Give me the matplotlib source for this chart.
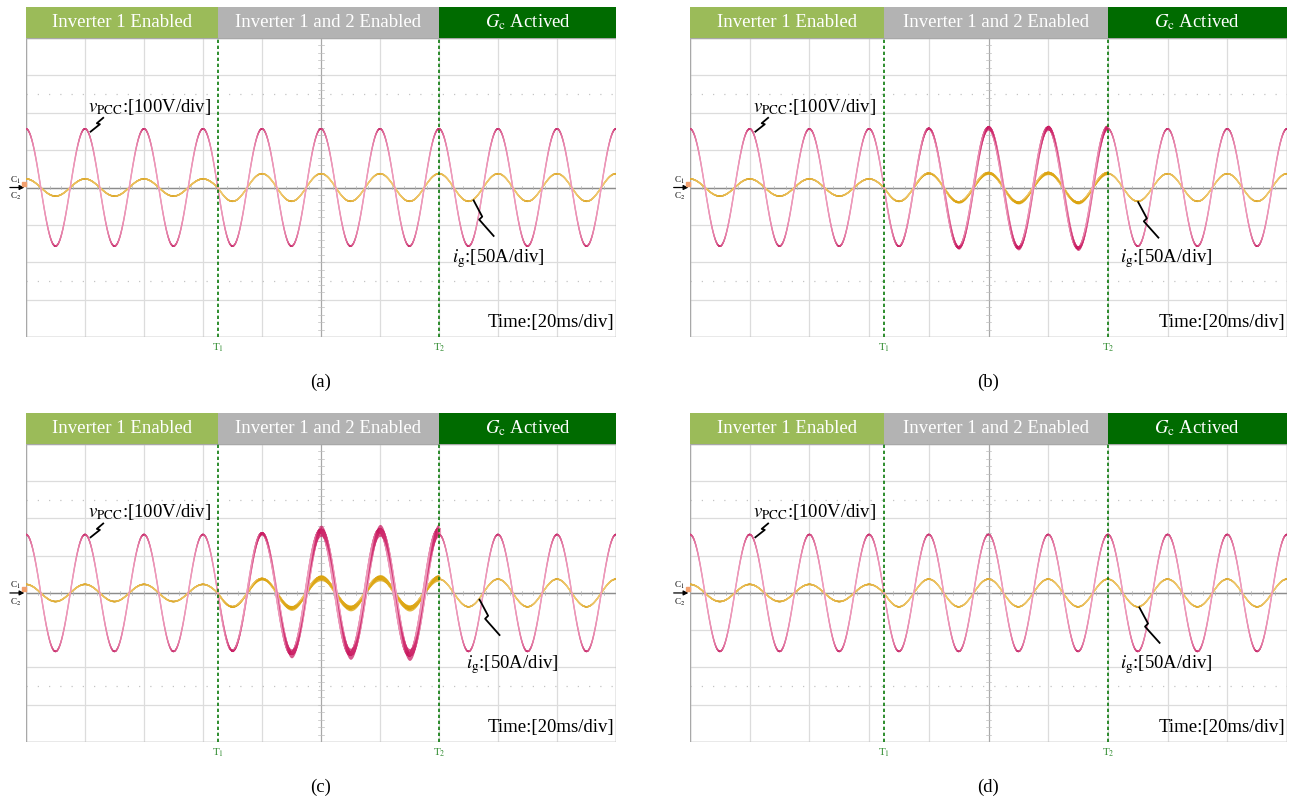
import numpy as np
import matplotlib.pyplot as plt
from matplotlib.collections import LineCollection
from matplotlib.colors import to_rgb
from matplotlib.patches import Rectangle

plt.rcParams['font.family'] = ['Liberation Serif', 'DejaVu Serif']
plt.rcParams['mathtext.fontset'] = 'stix'

# scope screen: 10 x 8 divisions, 20 ms/div -> one 50 Hz cycle per div
n_div_x = 10
n_div_y = 8
T1, T2 = 3.25, 7.0          # switching instants [div]
stage_labels = ['Inverter 1 Enabled', 'Inverter 1 and 2 Enabled',
                r'$G_{\mathrm{c}}$ Actived']
stage_colors = ['#9BBB59', '#B3B3B3', '#006B00']
panels = ['(a)', '(b)', '(c)', '(d)']

# amplitudes in div (v: 100 V/div, i: 50 A/div)
v_amp = [1.57, 1.57, 1.57]          # stage 1 / stage 2 nominal / stage 3
i_amp = [0.23, 0.37, 0.37]

# stage 2, per half cycle (extrema at t = 3.5, 4.0, ..., 7.0)
v_stage2 = {
    '(a)': [1.57, 1.57, 1.57, 1.57, 1.57, 1.57, 1.57, 1.57],
    '(b)': [1.57, 1.58, 1.60, 1.60, 1.61, 1.60, 1.62, 1.62],
    '(c)': [1.55, 1.60, 1.62, 1.67, 1.63, 1.68, 1.65, 1.69],
    '(d)': [1.57, 1.57, 1.57, 1.57, 1.57, 1.57, 1.57, 1.57],
}
v_band2 = {
    '(a)': [0, 0, 0, 0, 0, 0, 0, 0],
    '(b)': [0.02, 0.04, 0.10, 0.13, 0.12, 0.14, 0.13, 0.14],
    '(c)': [0.05, 0.10, 0.24, 0.30, 0.30, 0.32, 0.32, 0.34],
    '(d)': [0, 0, 0, 0, 0, 0, 0, 0],
}
i_stage2 = {
    '(a)': [0.37, 0.37, 0.37, 0.37, 0.37, 0.37, 0.37, 0.37],
    '(b)': [0.37, 0.38, 0.39, 0.39, 0.40, 0.39, 0.40, 0.39],
    '(c)': [0.37, 0.38, 0.40, 0.41, 0.40, 0.41, 0.40, 0.41],
    '(d)': [0.37, 0.37, 0.37, 0.37, 0.37, 0.37, 0.37, 0.37],
}
i_band2 = {
    '(a)': [0, 0, 0, 0, 0, 0, 0, 0],
    '(b)': [0.01, 0.03, 0.06, 0.08, 0.08, 0.09, 0.08, 0.09],
    '(c)': [0.03, 0.07, 0.13, 0.16, 0.16, 0.17, 0.17, 0.18],
    '(d)': [0, 0, 0, 0, 0, 0, 0, 0],
}
# annotation anchors [div]
ig_text_x = {'(a)': 7.22, '(b)': 7.2, '(c)': 7.45, '(d)': 7.2}
ig_lead_x = {'(a)': 7.58, '(b)': 7.5, '(c)': 7.68, '(d)': 7.52}

# axes boxes in pixels: left, top, width, height
boxes = {'(a)': (26, 7, 590, 330), '(b)': (690, 7, 597, 330),
         '(c)': (26, 413, 590, 329), '(d)': (690, 413, 597, 329)}
W, H = 1293, 806
HEAD = 0.83


def profile(t, stage_vals, stage2_list):
    a = np.full_like(t, stage_vals[0])
    m2 = (t >= T1) & (t < T2)
    k = np.clip(((t[m2] - T1) // 0.5).astype(int), 0, 7)
    a[m2] = np.asarray(stage2_list, dtype=float)[k]
    a[t >= T2] = stage_vals[2]
    return a


def trace(ax, t, y, amp, dark, light, lw, z):
    pts = np.column_stack([t, y])
    segs = np.stack([pts[:-1], pts[1:]], axis=1)
    slope = np.abs(np.diff(y) / np.diff(t))
    f = np.clip(slope / (2 * np.pi * amp), 0, 1) ** 0.5
    d, l = np.array(to_rgb(dark)), np.array(to_rgb(light))
    cols = (1 - f)[:, None] * d + f[:, None] * l
    ax.add_collection(LineCollection(segs, colors=cols, linewidths=lw,
                                     zorder=z, capstyle='round'))


def leader(ax, x0, y0, offs):
    # offsets in pixels (image coords, y down) -> div
    xs = [x0 + dx / 59.0 for dx, dy in offs]
    ys = [y0 - dy / 37.4 for dx, dy in offs]
    ax.plot(xs, ys, color='black', lw=1.3, zorder=6, solid_capstyle='butt')


t = np.linspace(0, n_div_x, 6001)
c = np.cos(2 * np.pi * t)

fig = plt.figure(figsize=(W / 100, H / 100), dpi=100)

for name in panels:
    l, tp, w, h = boxes[name]
    ax = fig.add_axes([l / W, 1 - (tp + h) / H, w / W, h / H])
    ax.set_xlim(0, n_div_x)
    ax.set_ylim(-4, 4 + HEAD)
    ax.axis('off')

    # grid
    for x in range(n_div_x + 1):
        ax.plot([x, x], [-4, 4], color='#DCDCDC', lw=0.9, zorder=1)
    for y in range(-4, 5):
        ax.plot([0, n_div_x], [y, y], color='#DCDCDC', lw=0.9, zorder=1)
    ax.plot([5, 5], [-4, 4], color='#A8A8A8', lw=0.8, zorder=1)
    ax.plot([0, n_div_x], [0, 0], color='#8C8C8C', lw=1.0, zorder=1)
    for xm in np.arange(0.2, n_div_x, 0.2):
        ax.plot([xm, xm], [-0.05, 0.05], color='#B4B4B4', lw=0.5, zorder=1)
    for ym in np.arange(-3.8, 4.0, 0.2):
        ax.plot([4.95, 5.05], [ym, ym], color='#BEBEBE', lw=0.5, zorder=1)
    for yd in (-2.5, 2.5):
        ax.plot([0, n_div_x], [yd, yd], color='#C4C4C4', lw=0.9,
                ls=(0, (1, 8)), zorder=1)
    ax.add_patch(Rectangle((0, -4), n_div_x, 8, fill=False, ec='#A8A8A8',
                           lw=1.0, zorder=2))

    # waveforms
    va = profile(t, v_amp, v_stage2[name])
    vb = profile(t, [0, 0, 0], v_band2[name])
    ia = profile(t, i_amp, i_stage2[name])
    ib = profile(t, [0, 0, 0], i_band2[name])
    v = va * c
    i = ia * c
    m2 = (t >= T1) & (t <= T2)

    trace(ax, t, i, 0.37, '#DBA624', '#F0C870', 1.0 + 7 * ib[:-1], 3)
    wi = ib * (0.35 + 0.65 * np.abs(c))
    ax.fill_between(t[m2], (i - wi / 2)[m2], (i + wi / 2)[m2],
                    color='#D9A000', alpha=0.75, lw=0, zorder=3)
    trace(ax, t, v, 1.57, '#C41A60', '#EE9CBC', 1.0 + 6 * vb[:-1], 4)
    wv = vb * (0.35 + 0.65 * np.abs(c))
    ax.fill_between(t[m2], (v - wv / 2)[m2], (v + wv / 2)[m2],
                    color='#C8105A', alpha=0.7, lw=0, zorder=4)

    # stage header
    edges = [0, T1, T2, n_div_x]
    for k in range(3):
        ax.add_patch(Rectangle((edges[k], 4), edges[k + 1] - edges[k], HEAD,
                               fc=stage_colors[k], ec='none', zorder=5))
        ax.text((edges[k] + edges[k + 1]) / 2, 4 + HEAD / 2, stage_labels[k],
                color='white', fontsize=13.5, ha='center', va='center',
                zorder=6)

    # switching instants
    for k, ts in enumerate((T1, T2)):
        ax.plot([ts, ts], [-4, 4], color='#0B7A0B', lw=1.2,
                ls=(0, (2, 1.6)), zorder=5)
        ax.text(ts, -4.3, r'T$_%d$' % (k + 1), color='#2E8B2E', fontsize=8,
                ha='center', va='center')

    # channel markers
    ax.annotate('', xy=(0.02, 0), xytext=(-0.32, 0),
                arrowprops=dict(arrowstyle='-|>', color='black', lw=0.9,
                                mutation_scale=7), annotation_clip=False)
    ax.text(-0.27, 0.2, r'C$_1$', fontsize=6.5, ha='left', va='center')
    ax.text(-0.27, -0.24, r'C$_2$', fontsize=6.5, ha='left', va='center')
    ax.plot([-0.04], [0.1], marker='s', ms=3, color='#F2A06E', clip_on=False,
            zorder=6)

    # labels
    ax.text(1.05, 2.16, r'$v_{\mathrm{PCC}}$:[100V/div]', fontsize=13.5,
            ha='left', va='center', zorder=7)
    leader(ax, 1.32, 1.88, [(0, 0), (-7, 6), (-4, 7), (-14, 15)])
    ax.text(ig_text_x[name], -1.91, r'$i_{\mathrm{g}}$:[50A/div]',
            fontsize=13.5, ha='left', va='center', zorder=7)
    y_lead = i_amp[2] * np.cos(2 * np.pi * ig_lead_x[name])
    leader(ax, ig_lead_x[name], y_lead, [(0, 0), (9, 17), (6, 20), (21, 37)])
    ax.text(9.97, -3.62, 'Time:[20ms/div]', fontsize=13.5, ha='right',
            va='center', zorder=7)

    ax.text(5, -5.22, name, fontsize=13.5, ha='center', va='center')

fig.savefig('out.png', dpi=100)
